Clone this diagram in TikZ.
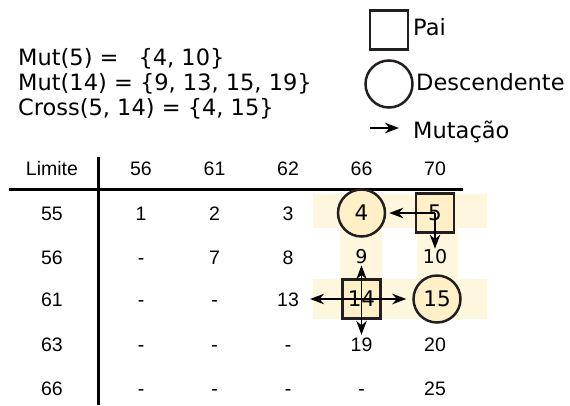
\documentclass[tikz,border=0pt]{standalone}
\usepackage{fontspec}
\setmainfont{DejaVu Sans}
\newfontfamily\tabfont{Liberation Sans}
\usetikzlibrary{arrows.meta}
\definecolor{EdgeDark}{HTML}{231F20}
\definecolor{BandCream}{RGB}{255,246,222}
\definecolor{CellCream}{RGB}{255,240,200}

\begin{document}
\begin{tikzpicture}[x=1pt,y=-1pt,
 tab/.style={font=\tabfont\fontsize{19.5}{19.5}\selectfont,inner sep=1pt,text height=14pt,text depth=0pt},
 big/.style={font=\fontsize{21.5}{21.5}\selectfont,inner sep=1pt},
 mid/.style={font=\fontsize{19}{19}\selectfont,inner sep=1pt},
 txt/.style={font=\fontsize{22.5}{22.5}\selectfont,inner sep=0pt,anchor=base west},
 pai/.style={draw=EdgeDark,line width=2.5pt,minimum width=38pt,minimum height=39pt,inner sep=0pt},
 desc/.style={pai,circle,minimum size=47pt},
 band/.style={fill=BandCream},
 mut/.style={-{Stealth[length=14pt,width=10.5pt]},line width=1.5pt},
 rule/.style={line width=3pt}]
\useasboundingbox (0,0) rectangle (570,405);
\node[txt] (mut5) at (18,65) {Mut(5) =\hspace{20pt}\{4, 10\}};
\node[txt] (mut14) at (18,90) {Mut(14) = \{9, 13, 15, 19\}};
\node[txt] (cross) at (18,115) {Cross(5, 14) = \{4, 15\}};
\node[pai] (lpai) at (389,30) {};
\node[desc] (ldesc) at (389,84) {};
\coordinate (lmuta) at (370,128);
\coordinate (lmutb) at (399,128);
\draw[mut] (lmuta) -- (lmutb);
\node[txt] (tpai) at (413,35) {Pai};
\node[txt] (tdesc) at (416,90) {Descendente};
\node[txt] (tmut) at (413,138) {Mutação};

\fill[band] (313,194) rectangle (487,228);
\fill[band] (313,279) rectangle (487,319);
\fill[band] (340,194) rectangle (382,319);
\fill[band] (417,194) rectangle (458,319);
\draw[rule] (9,189) -- (463,189);
\draw[rule] (98,157) -- (98,405);
\node[tab] (lim) at (52,168) {Limite};
\foreach \val [count=\coli] in {56,61,62,66,70}
 \node[tab] (h\coli) at ({141+73.5*(\coli-1)},168) {\val};
\foreach \val/\y [count=\rowi] in {55/213,56/257,61/299,63/344,66/388}
 \node[tab] (l\rowi) at (52,\y) {\val};
\foreach \y/\vals [count=\rowi] in {213/{1,2,3},257/{-,7,8},299/{-,-,13},344/{-,-,-,19,20},388/{-,-,-,-,25}}
 \foreach \val [count=\coli] in \vals
  \node[tab] (t\rowi-\coli) at ({141+73.5*(\coli-1)},\y) {\val};

\node[desc,fill=CellCream] (s4) at (361.5,213) {};
\node[pai,fill=CellCream] (s5) at (435,213) {};
\node[pai,fill=CellCream] (s14) at (361.5,299) {};
\node[desc,fill=CellCream] (s15) at (437,299) {};
\node[mid] (n9) at (361.5,257) {9};
\node[mid] (n10) at (435,257) {10};
\draw[mut,shorten >=3pt] (s5.center) -- (s4);
\draw[mut] (s5.center) -- (n10);
\draw[mut] (s14.center) -- (n9);
\draw[mut,shorten >=10pt] (s14.center) -- (t3-3);
\draw[mut,shorten >=6pt] (s14.center) -- (s15);
\draw[mut,shorten >=1pt] (s14.center) -- (t4-4);
\node[big] (n4) at (s4) {4};
\node[big] (n5) at (s5) {5};
\node[big] (n14) at (s14) {14};
\node[big] (n15) at (s15) {15};
\end{tikzpicture}
\end{document}
